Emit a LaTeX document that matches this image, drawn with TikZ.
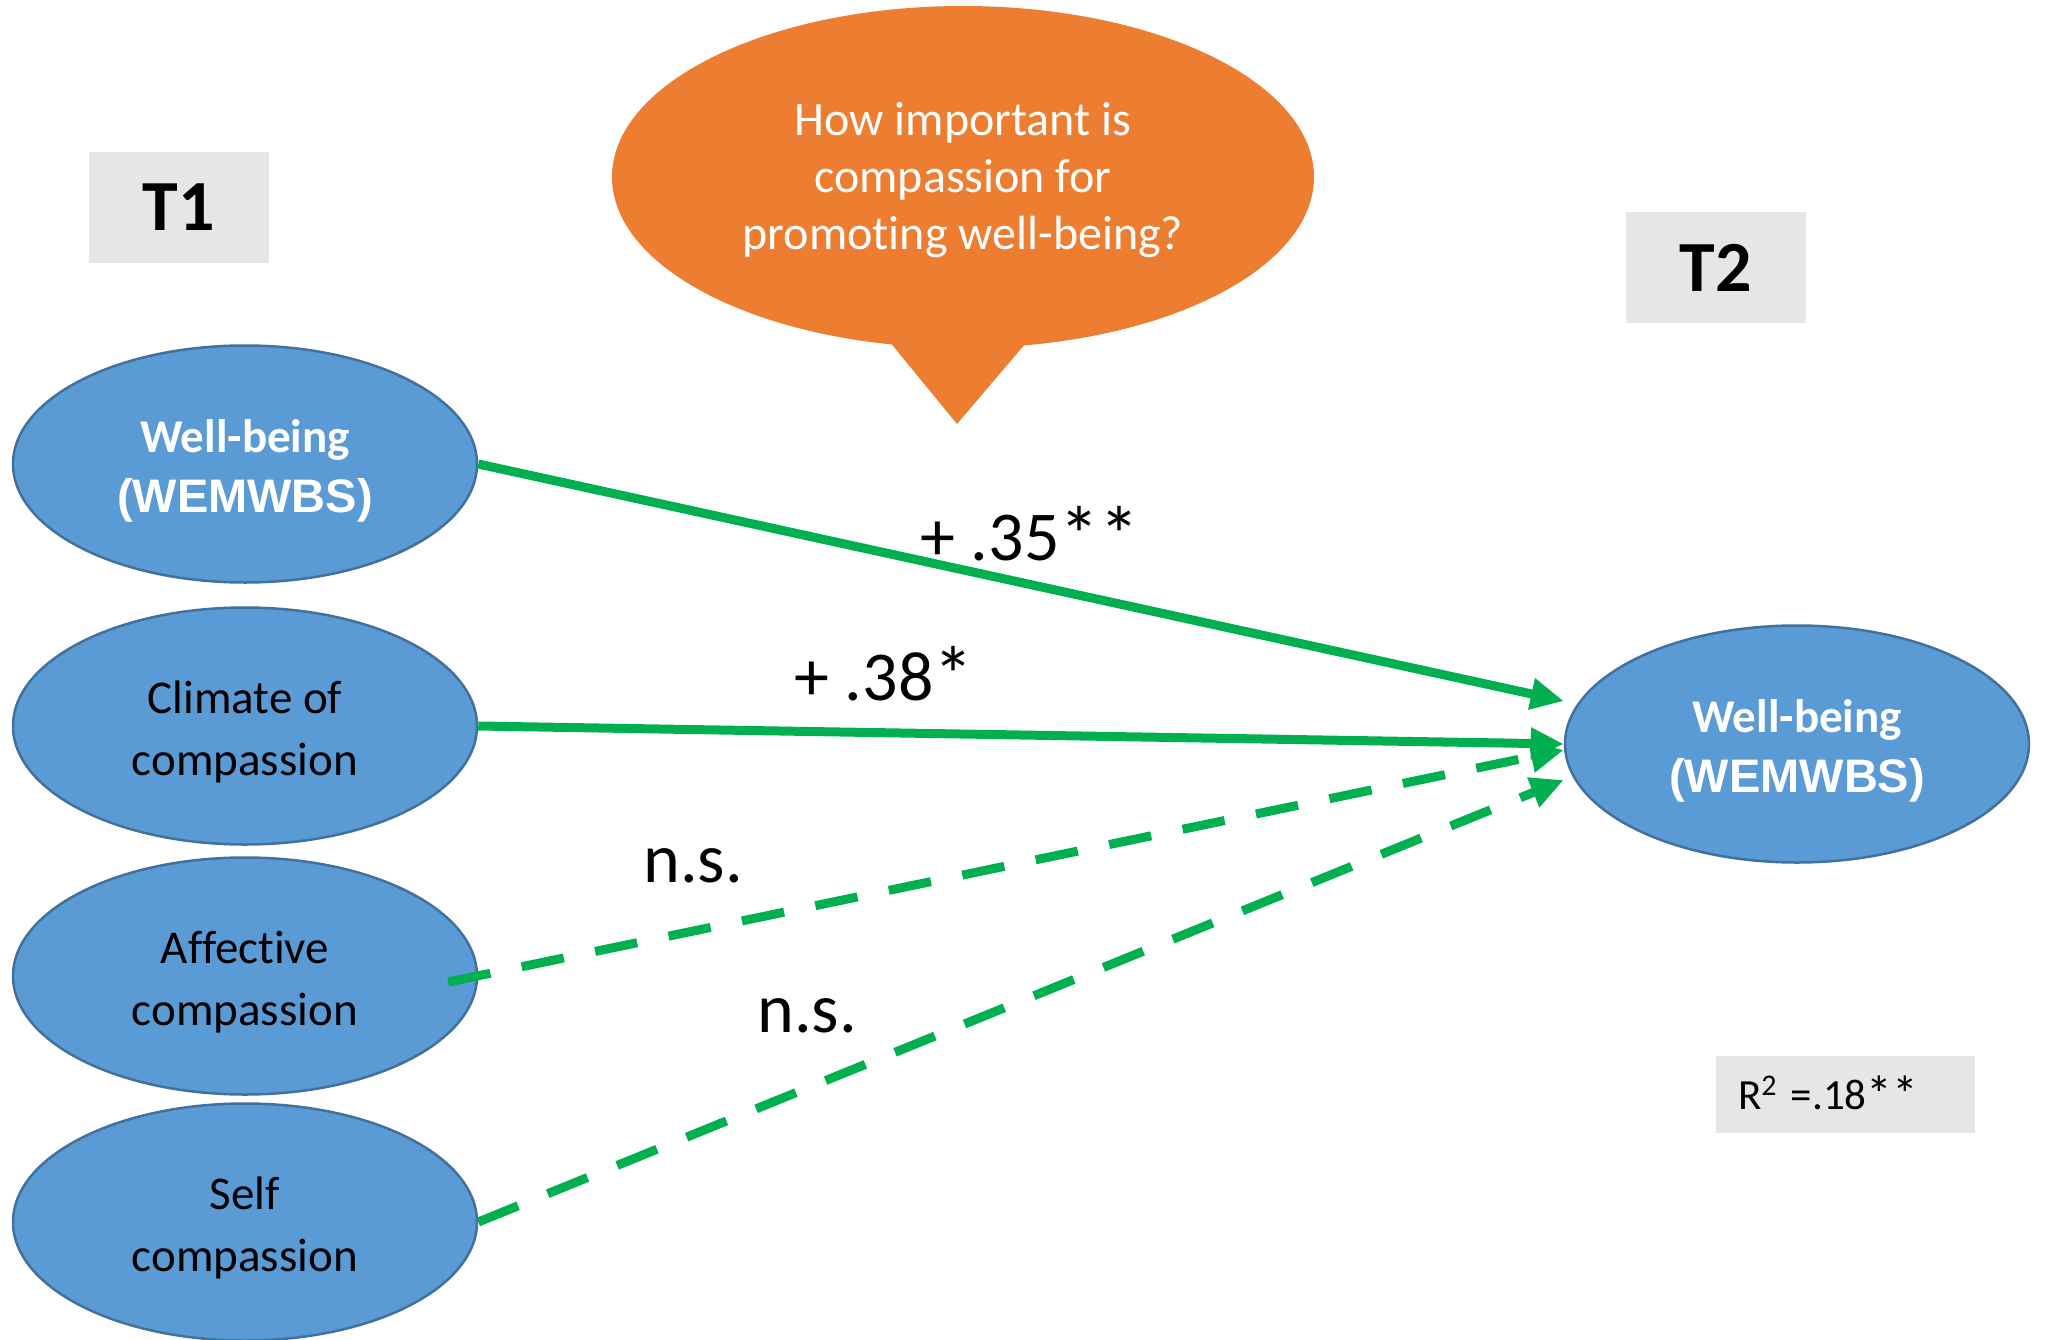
\documentclass[tikz,border=0pt]{standalone}
\usepackage{graphicx}
\usepackage{fontspec}
\setmainfont{Carlito}[RawFeature={-liga}]
\newfontfamily\arialfont{Liberation Sans}
\usetikzlibrary{shapes.geometric,arrows.meta,calc}

\definecolor{ellblue}{RGB}{91,155,213}
\definecolor{ellborder}{RGB}{65,113,156}
\definecolor{bubbleorange}{RGB}{237,125,49}
\definecolor{pathgreen}{RGB}{0,176,80}
\definecolor{tagray}{RGB}{231,230,230}

% invisible struts: top line height and bottom line depth of the node texts
\newcommand\topstrut{\rule{0pt}{51pt}}
\newcommand\botstrut{\rule[-14pt]{0pt}{14pt}}
\newcommand\bubtop{\rule{0pt}{46pt}}
% significance star, drawn a little larger than the font's asterisk
\newcommand\sigstar{\raisebox{-3pt}{\scalebox{1.15}{*}}}

\begin{document}
\begin{tikzpicture}[x=1pt,y=-1pt,
  var/.style={ellipse, draw=ellborder, line width=2.5pt, fill=ellblue,
    minimum width=464pt, minimum height=237pt, inner sep=0pt, align=center},
  wbtext/.style={text=white, font=\bfseries\fontsize{47}{60}\selectfont},
  comptext/.style={text=black, font=\fontsize{47}{62}\selectfont},
  timetag/.style={rectangle, fill=tagray, minimum width=180pt, minimum height=111pt,
    inner sep=0pt, font=\bfseries\fontsize{72}{86}\selectfont},
  coef/.style={anchor=base, inner sep=0pt, font=\fontsize{70}{84}\selectfont},
  sigpath/.style={draw=pathgreen, line width=9pt, -{Triangle[length=33pt,width=30pt]}},
  nspath/.style={sigpath, dash pattern=on 43pt off 32pt}]
\useasboundingbox (0,0) rectangle (2050,1340);

% time-point tags
\node[timetag] (t1tag) at (179,207.5) {T1};
\node[timetag] (t2tag) at (1716,267.5) {T2};

% question bubble
\fill[bubbleorange] (880,330) -- (957,424) -- (1037,330) -- cycle;
\node[ellipse, fill=bubbleorange, minimum width=702pt, minimum height=342pt,
  inner sep=0pt, align=center, text=white, font=\fontsize{48}{57}\selectfont]
  (bubble) at (963,177)
  {\bubtop How important is\\compassion for\\promoting well-being?\botstrut};

% T1 predictors
\node[var, wbtext] (wb1) at (245,464)
  {\topstrut Well-being\\{\arialfont\bfseries(WEMWBS)\botstrut}};
\node[var, comptext] (clim) at (245,726) {\topstrut Climate of\\compassion\botstrut};
\node[var, comptext] (aff) at (245,976) {\topstrut Affective\\compassion\botstrut};
\node[var, comptext] (self) at (245,1222) {\topstrut Self\\compassion\botstrut};

% T2 outcome
\node[var, wbtext] (wb2) at (1797,744)
  {\topstrut Well-being\\{\arialfont\bfseries(WEMWBS)\botstrut}};

% arrow ends
\coordinate (tip1) at ($(wb2.west)+(0,-43)$);
\coordinate (tip3) at ($(wb2.west)+(0,6)$);
\coordinate (tip4) at ($(wb2.west)+(0,36)$);
\coordinate (affout) at ($(aff.east)+(-30,6)$);

% paths
\draw[sigpath] (wb1.east) -- (tip1);
\draw[sigpath] (clim.east) -- (wb2.west);
\draw[nspath] (affout) -- (tip3);
\draw[nspath] (self.east) -- (tip4);

% coefficients
\node[coef] (c35) at (1030,560) {+ .35\sigstar\sigstar};
\node[coef] (c38) at (884,700) {+ .38\sigstar};
\node[coef] (nsaff) at (693,882) {n.s.};
\node[coef] (nsself) at (807,1032) {n.s.};

% explained variance
\node[rectangle, fill=tagray, minimum height=77pt, inner xsep=22pt, inner ysep=0pt,
  text width=215pt, align=left, font=\fontsize{43}{52}\selectfont]
  (rsq) at (1845.5,1094.5)
  {R\raisebox{14pt}{\fontsize{30}{36}\selectfont 2} =.18\raisebox{-3pt}{\scalebox{1.2}{*}}\raisebox{-3pt}{\scalebox{1.2}{*}}};
\end{tikzpicture}
\end{document}
